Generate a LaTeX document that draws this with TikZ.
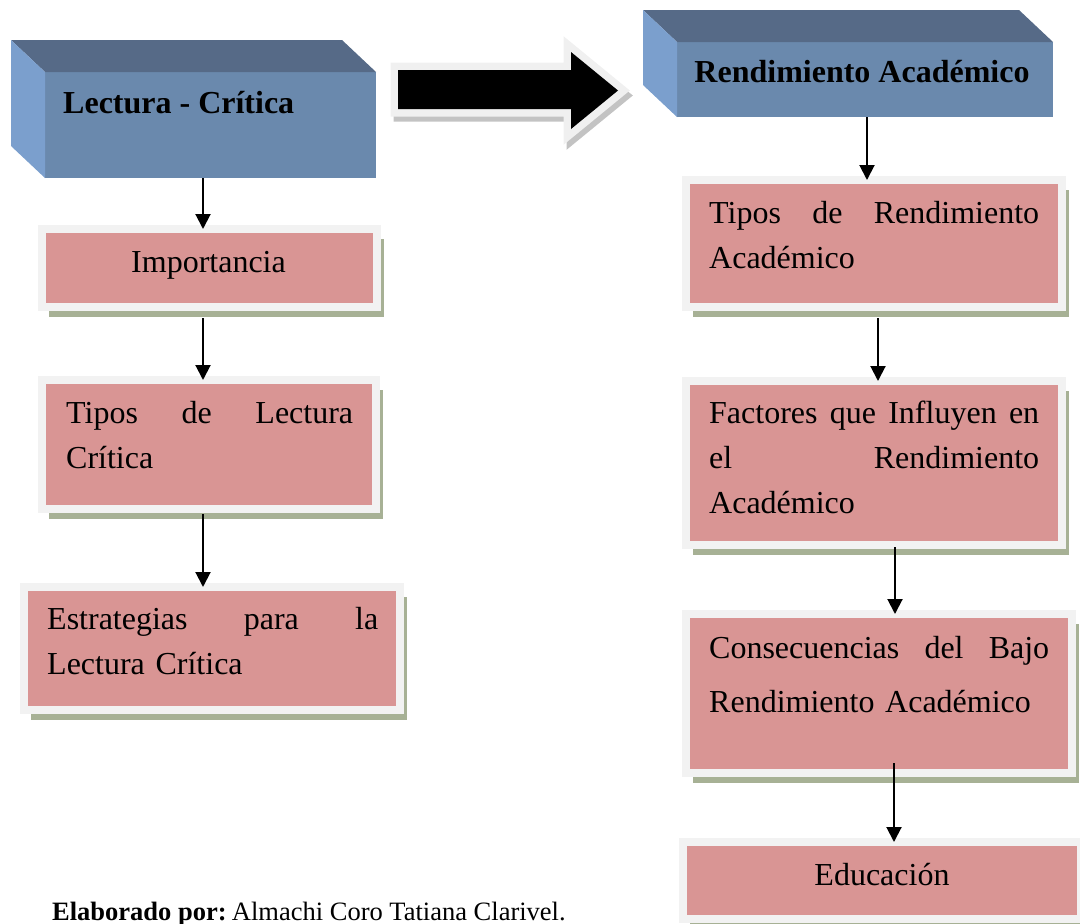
\documentclass[tikz,border=0pt]{standalone}
\usepackage{fontspec}
\setmainfont{Liberation Serif}
\usetikzlibrary{arrows.meta,shadows}
\definecolor{pinkfill}{RGB}{217,149,148}
\definecolor{framegray}{RGB}{242,242,242}
\definecolor{shadegreen}{RGB}{167,177,149}
\definecolor{facefront}{RGB}{106,137,173}
\definecolor{facetop}{RGB}{86,106,135}
\definecolor{faceside}{RGB}{123,159,205}
\definecolor{arrowrim}{RGB}{240,240,240}
\definecolor{arrowshade}{RGB}{195,195,195}
\tikzset{
  pinkbox/.style={rectangle, fill=pinkfill, draw=framegray, line width=8pt, inner sep=0pt, outer sep=0pt,
    drop shadow={shadow xshift=7pt, shadow yshift=-10pt, fill=shadegreen, opacity=1}},
  frontbox/.style={rectangle, fill=facefront, inner sep=0pt, outer sep=0pt},
  boxtext/.style={font=\fontsize{32}{45}\selectfont, inner sep=0pt, align=left},
  headtext/.style={boxtext, font=\fontsize{32}{45}\selectfont\bfseries},
  conn/.style={line width=2pt, -{Triangle[width=15pt,length=15pt]}}
}
\begin{document}
\begin{tikzpicture}[x=1pt,y=-1pt]
\useasboundingbox (0,0) rectangle (1080,924);
% block arrow between the two headings
\fill[black, preaction={draw=arrowshade, fill=arrowshade, line width=15pt, line join=miter, transform canvas={xshift=3pt,yshift=-5pt}},
  preaction={draw=arrowrim, line width=15pt, line join=miter}]
  (398,70) -- (571,70) -- (571,52) -- (618,90.5) -- (571,129) -- (571,109) -- (398,109) -- cycle;
% headings as 3d blocks
\node[frontbox, minimum width=331pt, minimum height=106pt] (lect) at (210.5,125) {};
\fill[facetop] (lect.north west) -- ++(-34,-32) -- ([shift={(-34,-32)}]lect.north east) -- (lect.north east) -- cycle;
\fill[faceside] (lect.north west) -- ++(-34,-32) -- ([shift={(-34,-32)}]lect.south west) -- (lect.south west) -- cycle;
\node[headtext, anchor=base west] (lect-t) at (63,113) {Lectura - Crítica};
\node[frontbox, minimum width=376pt, minimum height=75pt] (rend) at (865,79.5) {};
\fill[facetop] (rend.north west) -- ++(-34,-32) -- ([shift={(-34,-32)}]rend.north east) -- (rend.north east) -- cycle;
\fill[faceside] (rend.north west) -- ++(-34,-32) -- ([shift={(-34,-32)}]rend.south west) -- (rend.south west) -- cycle;
\node[headtext, anchor=base] (rend-t) at (862,82) {Rendimiento Académico};
% left column
\node[pinkbox, minimum width=335pt, minimum height=78pt] (imp) at (209.5,268) {};
\node[boxtext, anchor=base] (imp-t) at (208.5,272) {Importancia};
\node[pinkbox, minimum width=334pt, minimum height=129pt] (tiplec) at (209,444.5) {};
\node[boxtext, text width=287pt, anchor=base west] (tiplec-t) at (66,423) {Tipos\hfill de\hfill Lectura\\Crítica};
\node[pinkbox, minimum width=376pt, minimum height=123pt] (estr) at (212,648.5) {};
\node[boxtext, text width=331pt, anchor=base west] (estr-t) at (47,629) {Estrategias\hfill para\hfill la\\Lectura Crítica};
% right column
\node[pinkbox, minimum width=376pt, minimum height=127pt] (tiprend) at (874,243.5) {};
\node[boxtext, text width=330pt, anchor=base west] (tiprend-t) at (709,223) {Tipos\hfill de\hfill Rendimiento\\Académico};
\node[pinkbox, minimum width=376pt, minimum height=164pt] (fact) at (874,463) {};
\node[boxtext, text width=330pt, anchor=base west] (fact-t) at (709,423) {Factores\hfill que\hfill Influyen\hfill en\\el\hfill Rendimiento\\Académico};
\node[pinkbox, minimum width=386pt, minimum height=159pt] (cons) at (879,693.5) {};
\node[boxtext, text width=340pt, anchor=base west] (cons-t) at (709,658) {Consecuencias\hfill del\hfill Bajo\\[9pt]Rendimiento Académico};
\node[pinkbox, minimum width=398pt, minimum height=77pt] (edu) at (882,880.5) {};
\node[boxtext, anchor=base] (edu-t) at (882,885) {Educación};
% connectors
\draw[conn] ([xshift=-7.5pt]lect.south) -- ([xshift=-7.5pt]lect.south |- imp.north);
\draw[conn] ([xshift=-6.5pt,yshift=-11pt]imp.south) -- ([xshift=-6.5pt]imp.south |- tiplec.north);
\draw[conn] ([xshift=-6pt,yshift=-5pt]tiplec.south) -- ([xshift=-6pt]tiplec.south |- estr.north);
\draw[conn] ([xshift=2pt]rend.south) -- ([xshift=2pt]rend.south |- tiprend.north);
\draw[conn] ([xshift=4pt,yshift=-11pt]tiprend.south) -- ([xshift=4pt]tiprend.south |- fact.north);
\draw[conn] ([xshift=21pt,yshift=-2pt]fact.south) -- ([xshift=21pt]fact.south |- cons.north);
\draw[conn] ([xshift=15pt,yshift=10pt]cons.south) -- ([xshift=15pt]cons.south |- edu.north);
\node[font=\fontsize{26.5}{30}\selectfont, inner sep=0pt, anchor=base west] (autor) at (52,920) {\textbf{Elaborado por:}\hspace{0.2em}Almachi Coro Tatiana Clarivel.};
\end{tikzpicture}
\end{document}
